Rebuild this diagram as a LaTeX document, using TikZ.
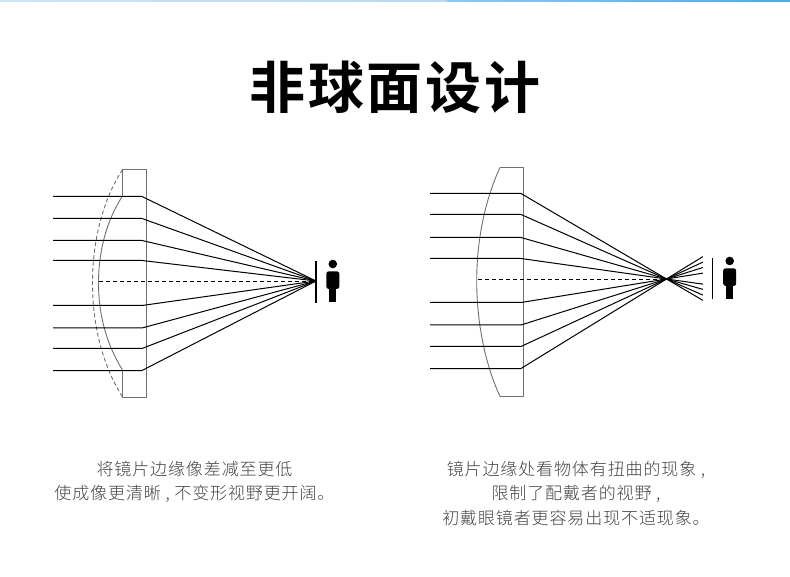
\documentclass[tikz,border=0pt]{standalone}
\usepackage{fontspec}
\usetikzlibrary{calc}
\newfontfamily\cjktitle[LetterSpace=5]{Noto Sans CJK SC Bold}
\newfontfamily\cjkbody[LetterSpace=5.2]{Noto Sans CJK SC Light}
\definecolor{captxt}{HTML}{444444}
\definecolor{lensgrey}{HTML}{707070}
\definecolor{bandA}{HTML}{CFE4F3}
\definecolor{bandB}{HTML}{B9D8EE}
\definecolor{bandC}{HTML}{93C6E7}
\definecolor{bandD}{HTML}{58A8DC}
\tikzset{
  ray/.style={draw=black,line width=1pt},
  lens/.style={draw=lensgrey,line width=0.9pt},
  axisline/.style={draw=black,line width=0.8pt,dash pattern=on 4pt off 3pt},
  stopbar/.style={draw=black,line width=1.5pt},
  figure/.style={fill=black},
  caption/.style={font=\cjkbody\fontsize{17}{24.5}\selectfont,text=captxt,align=center,inner sep=0pt},
  headline/.style={font=\cjktitle\fontsize{56}{60}\selectfont,text=black,inner sep=0pt},
}
\newcommand{\personat}[2]{%
  \fill[figure] (#1,#2-17) circle (4.3);
  \fill[figure,rounded corners=2.5pt] (#1-6.5,#2-9.7) rectangle (#1+6.5,#2+8);
  \fill[figure] (#1-3.5,#2+3) rectangle (#1+3.5,#2+21);
}
\begin{document}
\begin{tikzpicture}[x=1pt,y=-1pt]
\useasboundingbox (0,0) rectangle (790,577);
\fill[white] (0,0) rectangle (790,577);
% top band
\shade[left color=bandA,right color=bandB] (0,0) rectangle (447,2);
\shade[left color=bandC,right color=bandD] (447,0) rectangle (790,2);

\node[headline] (title) at (395,87) {非球面设计};

% ---------- left lens
\coordinate (LF) at (316,281);
\draw[lens] (122.5,196) -- (122.5,169.5) -- (146.5,169.5) -- (146.5,397) -- (122.5,397) -- (122.5,370);
\draw[lens] (122.5,196) .. controls (107,220) and (98.5,250) .. (98.5,283) .. controls (98.5,316) and (107,345) .. (122.5,370);
\draw[lens,dash pattern=on 4pt off 2.5pt] (122.5,169.5) .. controls (103,200) and (92.5,240) .. (92.5,283) .. controls (92.5,326) and (103,366) .. (122.5,397);
\coordinate (LA) at (99,281);
\draw[axisline] (LA) -- (LF);
\foreach \n/\yy in {a/196.5,b/218.5,c/240.5,d/260.5,e/305.5,f/328,g/348.5,h/370.5}{
  \coordinate (Ls\n) at (53,\yy);
  \coordinate (Lk\n) at (142,\yy);
  \draw[ray,line join=round] (Ls\n) -- (Lk\n) -- (LF);
}
\coordinate (LB1) at (316,261);
\coordinate (LB2) at (316,303);
\draw[stopbar] (LB1) -- (LB2);
\personat{332.8}{281}

% ---------- right lens
\coordinate (RF) at (666.5,279);
\draw[lens] (500,167.5) -- (523.5,167.5) -- (523.5,396.5) -- (500,396.5);
\draw[lens] (500,167.5) .. controls (485,200) and (476.7,240) .. (476.7,281) .. controls (476.7,322) and (485,364) .. (500,396.5);
\coordinate (RA) at (478,279);
\draw[axisline] (RA) -- (RF);
\foreach \n/\yy in {a/193.5,b/214.5,c/237.5,d/258.5,e/302.5,f/325,g/346.5,h/368.5}{
  \coordinate (Rs\n) at (430,\yy);
  \coordinate (Rk\n) at (521,\yy);
  \draw[ray,line join=round] (Rs\n) -- (Rk\n) -- ($(Rk\n)!1.25!(RF)$);
}
\coordinate (RB1) at (712.7,258);
\coordinate (RB2) at (712.7,299.5);
\draw[stopbar] (RB1) -- (RB2);
\personat{729.7}{278}

% ---------- captions
\node[caption] (capL) at (194.5,482) {将镜片边缘像差减至更低\\使成像更清晰 , 不变形视野更开阔。};
\node[caption] (capR) at (576,493.5) {镜片边缘处看物体有扭曲的现象 ,\\限制了配戴者的视野 ,\\初戴眼镜者更容易出现不适现象。};
\end{tikzpicture}
\end{document}
